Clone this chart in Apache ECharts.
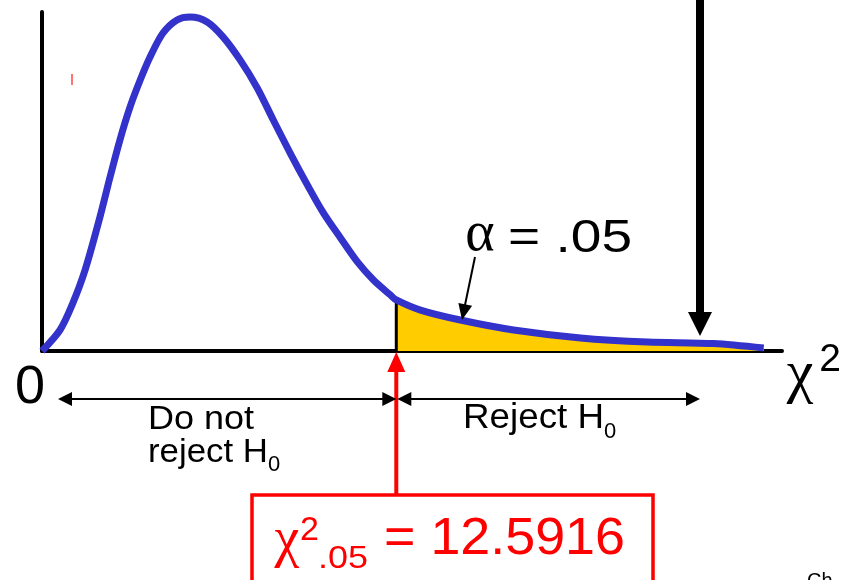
<!DOCTYPE html>
<html>
<head>
<meta charset="utf-8">
<script src="https://cdn.jsdelivr.net/npm/echarts@6/dist/echarts.min.js"></script>
<style>
  html, body { margin: 0; padding: 0; background: #fff; }
  #main { width: 851px; height: 580px; }
</style>
</head>
<body>
<div id="main"></div>
<script>
// chi-square curve (x = chi2 value, y = height)
var curveX = [0, 0.64, 1.07, 1.53, 2.06, 2.42, 2.77, 3.13, 3.49, 3.84, 4.30, 4.80, 5.27, 5.87, 6.44, 7.04, 7.65, 8.22, 8.82, 9.43, 10.00, 10.61, 11.21, 11.78, 12.38, 12.5916, 13.45, 14.87, 16.76, 19.14, 21.52, 23.87, 25.65];
var curveY = [0, 0.0093, 0.0204, 0.0358, 0.0593, 0.0770, 0.0934, 0.1080, 0.1199, 0.1301, 0.1407, 0.1465, 0.1478, 0.1456, 0.1389, 0.1288, 0.1164, 0.1022, 0.0876, 0.0735, 0.0611, 0.0500, 0.0394, 0.0314, 0.0248, 0.0226, 0.0181, 0.0137, 0.0093, 0.0058, 0.0040, 0.0033, 0.0013];
var critVal = 12.5916;
var alphaText = '= .05';
var critText = '= 12.5916';

var xMax = 26.3;
var yMax = 0.15;

var blue = '#3333CC';
var red = '#FF0000';
var font = 'Liberation Sans, Arial, sans-serif';
var serif = 'Liberation Serif, Times New Roman, serif';

var curve = curveX.map(function (x, i) { return [x, curveY[i]]; });
var tail = curve.filter(function (p) { return p[0] >= critVal; });
var critY = curveY[curveX.indexOf(critVal)];

var chart = echarts.init(document.getElementById('main'));

chart.setOption({
  animation: false,
  grid: { left: 42, right: 69, top: 12, bottom: 229 },
  xAxis: {
    type: 'value', min: 0, max: xMax,
    axisLine: { lineStyle: { color: '#000', width: 4, cap: 'round' } },
    axisTick: { show: false }, axisLabel: { show: false }, splitLine: { show: false }
  },
  yAxis: {
    type: 'value', min: 0, max: yMax,
    axisLine: { show: true, lineStyle: { color: '#000', width: 4, cap: 'round' } },
    axisTick: { show: false }, axisLabel: { show: false }, splitLine: { show: false }
  },
  series: [
    {
      // shaded rejection region
      type: 'line', data: tail, smooth: 0.3, symbol: 'none', z: 2,
      lineStyle: { width: 0 },
      areaStyle: { color: '#FFCC00', opacity: 1 }
    },
    {
      // boundary at the critical value
      type: 'line', data: [[critVal, 0], [critVal, critY]], symbol: 'none', z: 3,
      lineStyle: { color: '#000', width: 3 }
    },
    {
      type: 'line', data: curve, smooth: 0.3, symbol: 'none', z: 4,
      lineStyle: { color: blue, width: 7 }
    }
  ]
});

var ctx = document.createElement('canvas').getContext('2d');
function measure(s, size, family) {
  ctx.font = size + 'px ' + family;
  return ctx.measureText(s).width;
}

function head(tx, ty, fx, fy, len, hw, color) {
  var dx = tx - fx, dy = ty - fy;
  var d = Math.sqrt(dx * dx + dy * dy);
  var ux = dx / d, uy = dy / d;
  var bx = tx - ux * len, by = ty - uy * len;
  return {
    type: 'polygon', z: 20,
    shape: { points: [[tx, ty], [bx - uy * hw, by + ux * hw], [bx + uy * hw, by - ux * hw]] },
    style: { fill: color }
  };
}
function seg(x1, y1, x2, y2, w, color) {
  return { type: 'line', z: 19, shape: { x1: x1, y1: y1, x2: x2, y2: y2 }, style: { stroke: color, lineWidth: w } };
}
// text, optionally stretched to a given width (the slide text is a bit wide)
function txt(s, x, y, size, color, align, family, width) {
  family = family || font;
  var sx = width ? width / measure(s, size, family) : 1;
  return {
    type: 'text', z: 21, x: x, y: y, scaleX: sx,
    style: { text: s, fontSize: size, fill: color, align: align || 'left', verticalAlign: 'middle', fontFamily: family }
  };
}

var cx = chart.convertToPixel({ xAxisIndex: 0 }, critVal);
var x0 = chart.convertToPixel({ xAxisIndex: 0 }, 0);
var axisY = chart.convertToPixel({ yAxisIndex: 0 }, 0);
var arrowY = 399;

chart.setOption({
  graphic: [
    // axis labels
    txt('0', 30, 388, 54, '#000', 'center'),
    txt('χ', 800, 375, 60, '#000', 'center', serif),
    txt('2', 830, 360, 39, '#000', 'center'),

    // alpha annotation
    txt('α', 480, 235, 56, '#000', 'center', serif),
    txt(alphaText, 508, 239, 46, '#000', 'left', font, 124),
    seg(475, 257, 465, 305, 2, '#000'),
    head(462, 320, 475, 257, 16, 7, '#000'),

    // big black arrow
    seg(700, -5, 700, 315, 8, '#000'),
    head(700, 336, 700, 0, 24, 12, '#000'),

    // region arrows
    seg(x0 + 20, arrowY, cx - 4, arrowY, 2, '#000'),
    head(x0 + 16, arrowY, cx, arrowY, 14, 7, '#000'),
    head(cx, arrowY, x0, arrowY, 14, 7, '#000'),
    seg(cx + 4, arrowY, 686, arrowY, 2, '#000'),
    head(cx + 1, arrowY, 700, arrowY, 14, 7, '#000'),
    head(700, arrowY, cx, arrowY, 14, 7, '#000'),

    txt('Do not', 148, 420, 34, '#000', 'left', font, 106),
    txt('reject H', 148, 453, 34, '#000', 'left', font, 120),
    txt('0', 268, 465, 22, '#000'),
    txt('Reject H', 463, 418, 35, '#000', 'left', font, 141),
    txt('0', 604, 432, 22, '#000'),

    // critical value box
    seg(cx, 495, cx, axisY + 20, 4, red),
    head(cx, axisY + 1, cx, 495, 20, 9, red),
    {
      type: 'rect', z: 18,
      shape: { x: 252, y: 495, width: 401, height: 110 },
      style: { fill: '#fff', stroke: red, lineWidth: 3.5 }
    },
    txt('χ', 287, 541, 56, red, 'center', serif),
    txt('2', 300, 531, 34, red),
    txt('.05', 318, 559, 32, red, 'left', font, 50),
    txt(critText, 384, 540, 52, red, 'left', font, 241),

    // stray marks from the slide
    seg(72, 74, 72, 85, 1.5, '#ff4444'),
    txt('Ch', 807, 581, 20, '#000')
  ]
});
</script>
</body>
</html>
